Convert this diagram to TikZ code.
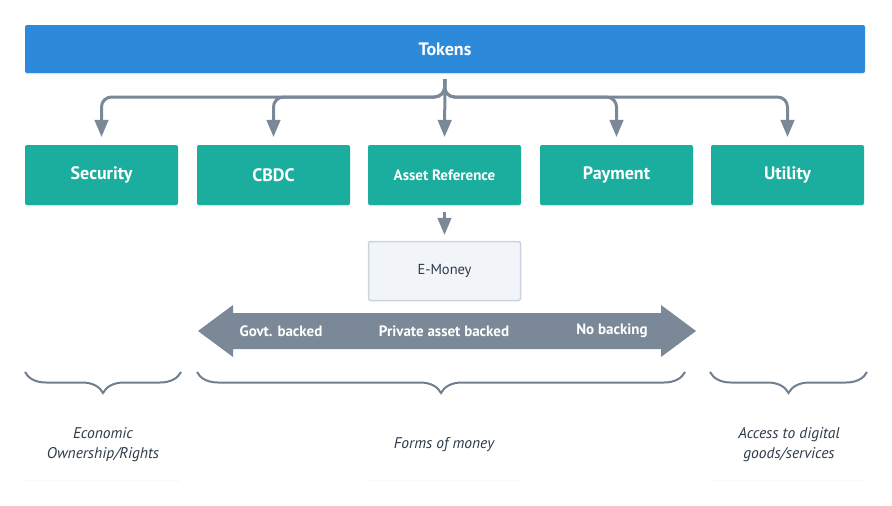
\documentclass[tikz,border=0pt]{standalone}
\usepackage{fontspec}
\setmainfont{PT Sans}
\usetikzlibrary{arrows,decorations.pathreplacing,shadows}

\definecolor{tokblue}{HTML}{2D89D9}
\definecolor{tealbox}{HTML}{1BAE9F}
\definecolor{linegray}{HTML}{7A8897}
\definecolor{bracegray}{HTML}{6F7F8F}
\definecolor{emfill}{HTML}{F1F4F8}
\definecolor{emdraw}{HTML}{CBD4DE}
\definecolor{textdark}{HTML}{2E3A4A}

\tikzset{
  kind/.style={fill=tealbox, text=white, font=\bfseries\fontsize{18}{20}\selectfont,
    minimum width=153pt, minimum height=60pt, rounded corners=2pt, inner sep=0pt,
    drop shadow={opacity=0.12, shadow xshift=0pt, shadow yshift=-1.5pt}},
  conn/.style={draw=linegray, line width=3pt, rounded corners=10pt, >=triangle 45},
  note/.style={fill=white, text=textdark, font=\itshape\fontsize{15.5}{20}\selectfont,
    minimum width=156pt, minimum height=71pt, align=center, rounded corners=2pt,
    drop shadow={opacity=0.05, shadow xshift=0pt, shadow yshift=-1pt}},
  bracket/.style={draw=bracegray, line width=2pt,
    decorate, decoration={brace, mirror, amplitude=21pt}},
  bandtext/.style={text=white, font=\bfseries\fontsize{15}{17}\selectfont}
}

\begin{document}
\begin{tikzpicture}[x=1pt,y=-1pt]
    \useasboundingbox (0,0) rectangle (892,506);

    \node[fill=tokblue, text=white, font=\bfseries\fontsize{18}{20}\selectfont,
      minimum width=840pt, minimum height=48pt, rounded corners=2pt,
      drop shadow={opacity=0.12, shadow xshift=0pt, shadow yshift=-1.5pt}]
      at (445,49) (tokens) {Tokens};

    \node[kind] at (101.5,175) (security) {Security};
    \node[kind] at (273.5,175) (cbdc) {CBDC};
    \node[kind, font=\bfseries\fontsize{15}{17}\selectfont] at (444.5,175) (assetref) {Asset Reference};
    \node[kind] at (616.5,175) (payment) {Payment};
    \node[kind] at (787.5,175) (utility) {Utility};

    \node[fill=emfill, draw=emdraw, line width=1.5pt, text=textdark,
      font=\fontsize{14.5}{16}\selectfont, minimum width=152pt, minimum height=59pt,
      rounded corners=2pt] at (444.5,271) (emoney) {E-Money};

    \coordinate (split) at (444.5,97);
    \draw[conn, ->, shorten <=6pt, shorten >=8pt] (tokens.south) -- (split) -| (security.north);
    \draw[conn, ->, shorten <=6pt, shorten >=8pt] (tokens.south) -- (split) -| (cbdc.north);
    \draw[conn, ->, shorten <=6pt, shorten >=8pt] (tokens.south) -- (assetref.north);
    \draw[conn, ->, shorten <=6pt, shorten >=8pt] (tokens.south) -- (split) -| (payment.north);
    \draw[conn, ->, shorten <=6pt, shorten >=8pt] (tokens.south) -- (split) -| (utility.north);
    \draw[conn, ->, shorten <=7pt, shorten >=6pt] (assetref.south) -- (emoney.north);

    % backing scale
    \fill[linegray] (198,331) -- (233,305) -- (233,313) -- (661,313) -- (661,305)
      -- (696,331) -- (661,357) -- (661,349) -- (233,349) -- (233,357) -- cycle;
    \node[bandtext] at (281,331) (govt) {Govt. backed};
    \node[bandtext] at (444,331) (private) {Private asset backed};
    \node[bandtext] at (612,331) (nobacking) {No backing};

    \draw[bracket] (25,372) -- (181,372);
    \draw[bracket] (197,372) -- (685,372);
    \draw[bracket] (710,372) -- (867,372);

    \node[note] at (103,444.5) (econ) {Economic\\Ownership/Rights};
    \node[note] at (444,444.5) (money) {Forms of money};
    \node[note] at (789,444.5) (access) {Access to digital\\goods/services};
\end{tikzpicture}
\end{document}
